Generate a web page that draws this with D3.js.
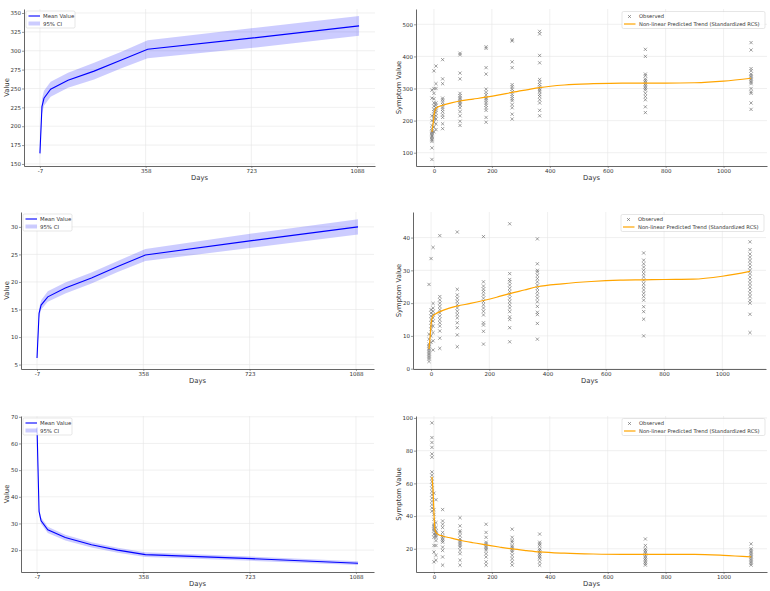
<!DOCTYPE html>
<html>
<head>
<meta charset="utf-8">
<script src="https://cdn.jsdelivr.net/npm/d3@7"></script>
<style>
  body { margin: 0; background: #fff; }
  svg text { font-family: "DejaVu Sans", sans-serif; fill: #333; }
</style>
</head>
<body>
<div id="chart"></div>
<script>
// visit days shared by all panels
const days = [-7, 0, 7, 30, 90, 180, 270, 365, 730, 1095];
const leftTicks = [-7, 358, 723, 1088];
const rightTicks = [0, 200, 400, 600, 800, 1000];

// left column: mean value and 95% CI
const mean1  = [164, 226, 237, 249, 261, 273, 287, 302, 317, 333];
const lower1 = [157, 216, 227, 239, 251, 262, 276, 290, 304, 320];
const upper1 = [171, 236, 247, 259, 271, 284, 298, 314, 330, 346];

const mean2  = [6.2, 14.3, 15.8, 17.3, 18.9, 20.7, 22.8, 24.9, 27.5, 30.0];
const lower2 = [5.5, 13.4, 15.0, 16.4, 17.9, 19.7, 21.8, 23.8, 26.2, 28.6];
const upper2 = [6.9, 15.2, 16.7, 18.3, 19.9, 21.7, 23.8, 26.0, 28.8, 31.4];

const mean3  = [66, 34.5, 31, 27.6, 24.7, 22, 20, 18.3, 16.8, 15.1];
const lower3 = [64.5, 33.2, 29.8, 26.4, 23.6, 21, 19, 17.4, 16, 14.4];
const upper3 = [67.5, 35.8, 32.2, 28.8, 25.8, 23, 20.9, 19.2, 17.6, 15.8];

// right column: predicted RCS trend
const trendDays = [-7, -3, 0, 3, 7, 15, 30, 60, 90, 135, 180, 225, 270, 320, 365, 450, 550, 650, 730, 800, 900, 1000, 1095];
const trend1 = [165, 190, 215, 230, 238, 243, 248, 255, 261, 267, 273, 280, 288, 296, 303, 311, 315, 317, 317, 317, 318, 323, 332];
const trend2 = [6, 10, 13.5, 15.3, 16.1, 16.7, 17.4, 18.4, 19.1, 19.9, 20.8, 21.8, 22.9, 24.0, 25.0, 25.9, 26.6, 27.0, 27.1, 27.2, 27.3, 28.2, 29.7];
const trend3 = [64, 55, 42, 32, 30, 28.8, 27.8, 26.5, 25.2, 23.7, 22.4, 21.1, 19.9, 18.9, 18.1, 17.3, 16.8, 16.6, 16.6, 16.6, 16.6, 16.0, 15.0];

// observed values, one list per visit day
const obs1 = [
  [79, 115, 135, 140, 144, 148, 152, 156, 160, 164, 168, 175, 185, 200, 215, 270, 295],
  [165, 180, 195, 205, 212, 220, 228, 235, 245, 255, 268, 285, 300, 355],
  [172, 190, 205, 215, 225, 232, 240, 248, 255, 300, 315, 370],
  [175, 190, 210, 218, 228, 236, 242, 250, 258, 265, 270, 315, 330, 390],
  [185, 198, 215, 228, 240, 248, 252, 258, 262, 268, 272, 278, 285, 330, 348, 405, 410],
  [195, 210, 232, 240, 248, 255, 262, 268, 272, 280, 288, 298, 345, 365, 425, 430],
  [205, 220, 240, 250, 262, 268, 275, 282, 290, 298, 305, 312, 365, 383, 448, 452],
  [215, 232, 255, 265, 275, 282, 290, 295, 300, 305, 312, 320, 328, 380, 403, 470, 478],
  [225, 243, 265, 275, 285, 295, 300, 305, 310, 315, 320, 325, 330, 340, 345, 400, 422],
  [235, 255, 285, 290, 300, 315, 320, 325, 330, 335, 340, 345, 355, 362, 420, 443]
];
const obs2 = [
  [2.2, 3, 3.5, 4, 4.5, 5, 5.5, 6, 6.5, 7, 7.5, 9, 10.5, 25.7],
  [8, 10, 12, 13, 14, 15, 16, 17, 18, 33.6],
  [5.7, 8.5, 11, 13, 14.5, 15.5, 16.5, 17.5, 18.5, 19.9, 37],
  [6.2, 9.3, 11.5, 13, 14, 15, 16, 17, 18, 19, 20, 21, 22, 40.6],
  [6.7, 10.3, 12.5, 14, 15.5, 16.5, 17.5, 18.5, 19.5, 20.5, 21.5, 22.5, 24.2, 41.7],
  [7.5, 11.4, 13.3, 14, 16.4, 17.5, 18.5, 19.5, 20.5, 21.5, 22.5, 23.5, 24.3, 25.2, 26.5, 40.3],
  [8.2, 12.5, 15, 15.8, 17.4, 18.5, 19.5, 20.5, 21.5, 22.5, 23.5, 24.5, 25.5, 26.5, 27.2, 29, 44.2],
  [9, 13.8, 16.5, 17.2, 19, 20.4, 21.5, 22.5, 23.5, 24.5, 25.5, 26.5, 27.5, 28.5, 29.5, 30, 32, 39.6],
  [10, 15.1, 17.4, 18.9, 20.9, 22, 23, 24, 25, 26, 27, 28, 29, 30, 31, 32, 33.1, 35.3],
  [11, 16.6, 20, 20.9, 22, 23, 24, 25, 26, 27, 28, 29, 30, 31, 32, 33, 34, 35, 36.3, 38.7]
];
const obs3 = [
  [43, 45, 47, 49, 51, 53, 55, 57, 59, 61, 63, 65, 67, 76, 78, 82, 85, 88, 97],
  [12, 18, 22, 27, 29, 31, 32, 33, 34, 35, 38, 41, 44, 54],
  [13, 16, 22, 25, 27, 28, 29, 30, 31, 33, 36, 50],
  [10, 15, 19, 21, 24, 25, 26, 27, 28, 30, 33, 35, 37, 44],
  [10, 13, 17, 19, 21, 22, 23, 24, 25, 26, 28, 30, 31, 34, 39],
  [10, 12, 15, 17, 19, 20, 21, 22, 23, 24, 27, 30, 35],
  [10, 12, 14, 16, 18, 19, 20, 21, 22, 24, 25, 27, 32],
  [10, 12, 14, 15, 16, 17, 18, 19, 20, 22, 23, 24, 29],
  [10, 11, 12, 13, 14, 15, 16, 17, 18, 19, 20, 22, 26],
  [10, 11, 12, 13, 14, 15, 16, 17, 18, 19, 20, 23]
];

const yTicks1 = [150, 175, 200, 225, 250, 275, 300, 325, 350];
const yTicks2 = [5, 10, 15, 20, 25, 30];
const yTicks3 = [20, 30, 40, 50, 60, 70];
const yTicksR1 = [100, 200, 300, 400, 500];
const yTicksR2 = [0, 10, 20, 30, 40];
const yTicksR3 = [20, 40, 60, 80, 100];

const width = 770, height = 591;
const svg = d3.select("#chart").append("svg")
    .attr("width", width)
    .attr("height", height);

// common axis helper: spines, ticks, grid and labels
function frame(x, y, xTicks, yTicks, ylabel, labelX) {
    const g = svg.append("g");
    const [x0, x1] = x.range(), [y0, y1] = y.range();

    g.selectAll(".gx").data(xTicks).join("line")
        .attr("x1", d => x(d)).attr("x2", d => x(d))
        .attr("y1", y0).attr("y2", y1)
        .attr("stroke", "#e6e6e6").attr("stroke-width", 0.6);
    g.selectAll(".gy").data(yTicks).join("line")
        .attr("x1", x0).attr("x2", x1)
        .attr("y1", d => y(d)).attr("y2", d => y(d))
        .attr("stroke", "#e6e6e6").attr("stroke-width", 0.6);

    const ax = g.append("g")
        .attr("transform", `translate(0,${y0})`)
        .call(d3.axisBottom(x).tickValues(xTicks).tickFormat(d => String(d))
            .tickSize(2).tickSizeOuter(0).tickPadding(1));
    const ay = g.append("g")
        .attr("transform", `translate(${x0},0)`)
        .call(d3.axisLeft(y).tickValues(yTicks).tickFormat(d => String(d))
            .tickSize(2).tickSizeOuter(0).tickPadding(1));
    for (const a of [ax, ay]) {
        a.select(".domain").attr("stroke", "#555").attr("stroke-width", 0.9);
        a.selectAll(".tick line").attr("stroke", "#555").attr("stroke-width", 0.6);
        a.selectAll("text").style("font-size", "5.5px").attr("fill", "#333")
            .style("font-family", "DejaVu Sans, sans-serif");
    }

    g.append("text")
        .attr("x", (x0 + x1) / 2)
        .attr("y", y0 + 14)
        .attr("text-anchor", "middle")
        .style("font-size", "6.8px")
        .text("Days");
    g.append("text")
        .attr("transform", `translate(${labelX},${(y0 + y1) / 2}) rotate(-90)`)
        .attr("text-anchor", "middle")
        .style("font-size", "6.8px")
        .text(ylabel);
    return g;
}

function linePanel(box, mean, lower, upper, yDomain, yTicks) {
    const x = d3.scaleLinear().domain([-62, 1150]).range([box.left, box.right]);
    const y = d3.scaleLinear().domain(yDomain).range([box.bottom, box.top]);
    frame(x, y, leftTicks, yTicks, "Value", 9.3);

    const rows = days.map((d, i) => ({ day: d, mean: mean[i], lo: lower[i], hi: upper[i] }));
    svg.append("path")
        .datum(rows)
        .attr("fill", "blue").attr("fill-opacity", 0.2)
        .attr("d", d3.area().x(d => x(d.day)).y0(d => y(d.lo)).y1(d => y(d.hi)));
    svg.append("path")
        .datum(rows)
        .attr("fill", "none").attr("stroke", "blue").attr("stroke-width", 1.1)
        .attr("d", d3.line().x(d => x(d.day)).y(d => y(d.mean)));

    // legend
    const lg = svg.append("g").attr("transform", `translate(${box.left + 2},${box.top + 2})`);
    lg.append("rect").attr("width", 49).attr("height", 17).attr("rx", 1.5)
        .attr("fill", "white").attr("fill-opacity", 0.8)
        .attr("stroke", "#ccc").attr("stroke-width", 0.5);
    lg.append("line").attr("x1", 2.5).attr("x2", 14).attr("y1", 5).attr("y2", 5)
        .attr("stroke", "blue").attr("stroke-width", 1.1);
    lg.append("rect").attr("x", 2.5).attr("y", 10.5).attr("width", 11.5).attr("height", 4)
        .attr("fill", "blue").attr("fill-opacity", 0.2);
    lg.append("text").attr("x", 17).attr("y", 6.9).style("font-size", "5.4px").text("Mean Value");
    lg.append("text").attr("x", 17).attr("y", 14.7).style("font-size", "5.4px").text("95% CI");
}

function scatterPanel(box, obs, trend, yDomain, yTicks) {
    const x = d3.scaleLinear().domain([-62, 1150]).range([box.left, box.right]);
    const y = d3.scaleLinear().domain(yDomain).range([box.bottom, box.top]);
    frame(x, y, rightTicks, yTicks, "Symptom Value", 400.5);

    const pts = days.flatMap((d, i) => obs[i].map(v => ({ day: d, v: v })));
    svg.append("g").selectAll("path").data(pts).join("path")
        .attr("transform", d => `translate(${x(d.day)},${y(d.v)})`)
        .attr("d", "M-1.6,-1.6L1.6,1.6M-1.6,1.6L1.6,-1.6")
        .attr("stroke", "#606060").attr("stroke-opacity", 0.65).attr("stroke-width", 0.9);

    const tr = trendDays.map((d, i) => ({ day: d, v: trend[i] }));
    svg.append("path")
        .datum(tr)
        .attr("fill", "none").attr("stroke", "orange").attr("stroke-width", 1.2)
        .attr("d", d3.line().curve(d3.curveMonotoneX).x(d => x(d.day)).y(d => y(d.v)));

    // legend
    const lg = svg.append("g").attr("transform", `translate(${box.right - 145},${box.top + 2.5})`);
    lg.append("rect").attr("width", 143).attr("height", 17).attr("rx", 1.5)
        .attr("fill", "white").attr("fill-opacity", 0.8)
        .attr("stroke", "#ccc").attr("stroke-width", 0.5);
    lg.append("path").attr("transform", "translate(7.5,5)")
        .attr("d", "M-1.5,-1.5L1.5,1.5M-1.5,1.5L1.5,-1.5")
        .attr("stroke", "#606060").attr("stroke-opacity", 0.65).attr("stroke-width", 0.9);
    lg.append("line").attr("x1", 2).attr("x2", 13.5).attr("y1", 12.5).attr("y2", 12.5)
        .attr("stroke", "orange").attr("stroke-width", 1.2);
    lg.append("text").attr("x", 17).attr("y", 6.9).style("font-size", "5.2px").text("Observed");
    lg.append("text").attr("x", 17).attr("y", 14.5).style("font-size", "5.2px")
        .text("Non-linear Predicted Trend (Standardized RCS)");
}

linePanel({ left: 24, right: 375, top: 9, bottom: 166 }, mean1, lower1, upper1, [147.3, 355.3], yTicks1);
linePanel({ left: 21, right: 374, top: 212, bottom: 369 }, mean2, lower2, upper2, [4.2, 32.7], yTicks2);
linePanel({ left: 21, right: 374, top: 416, bottom: 572 }, mean3, lower3, upper3, [11.8, 70.3], yTicks3);

scatterPanel({ left: 416, right: 767, top: 9, bottom: 166 }, obs1, trend1, [58.6, 547.7], yTicksR1);
scatterPanel({ left: 413, right: 766, top: 212, bottom: 369 }, obs2, trend2, [-0.1, 47.8], yTicksR2);
scatterPanel({ left: 416, right: 767, top: 416, bottom: 572 }, obs3, trend3, [5.8, 101.2], yTicksR3);
</script>
</body>
</html>
